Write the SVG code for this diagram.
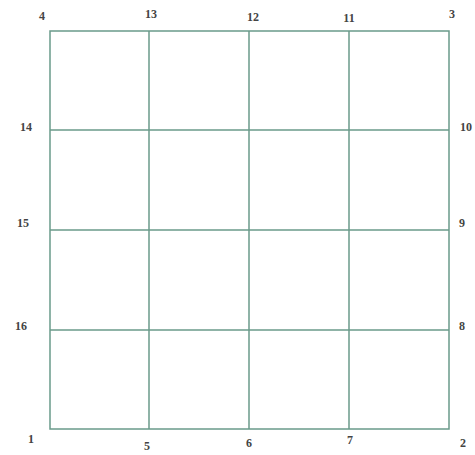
<svg xmlns="http://www.w3.org/2000/svg" width="475" height="455" viewBox="0 0 475 455">
<style>
.g{stroke:#6a9a8a;stroke-width:1.5;fill:none}
text{font-family:"Liberation Serif","DejaVu Serif",serif;font-size:12px;font-weight:bold;fill:#444;text-anchor:middle}
</style>
<rect width="475" height="455" fill="#fff"/>
<g id="grid">
<rect class="g" x="50" y="31" width="399" height="398"/>
<line class="g" x1="149" y1="31" x2="149" y2="429"/>
<line class="g" x1="249" y1="31" x2="249" y2="429"/>
<line class="g" x1="349" y1="31" x2="349" y2="429"/>
<line class="g" x1="50" y1="130" x2="449" y2="130"/>
<line class="g" x1="50" y1="230" x2="449" y2="230"/>
<line class="g" x1="50" y1="330" x2="449" y2="330"/>
</g>
<g id="labels">
<text x="42" y="20">4</text>
<text x="151" y="18">13</text>
<text x="253" y="21">12</text>
<text x="349" y="22">11</text>
<text x="452" y="18">3</text>
<text x="26" y="131">14</text>
<text x="466" y="131">10</text>
<text x="23" y="227">15</text>
<text x="462" y="227">9</text>
<text x="21" y="330">16</text>
<text x="462" y="330">8</text>
<text x="31" y="443">1</text>
<text x="147" y="450">5</text>
<text x="249" y="447">6</text>
<text x="350" y="444">7</text>
<text x="463" y="447">2</text>
</g>
</svg>
